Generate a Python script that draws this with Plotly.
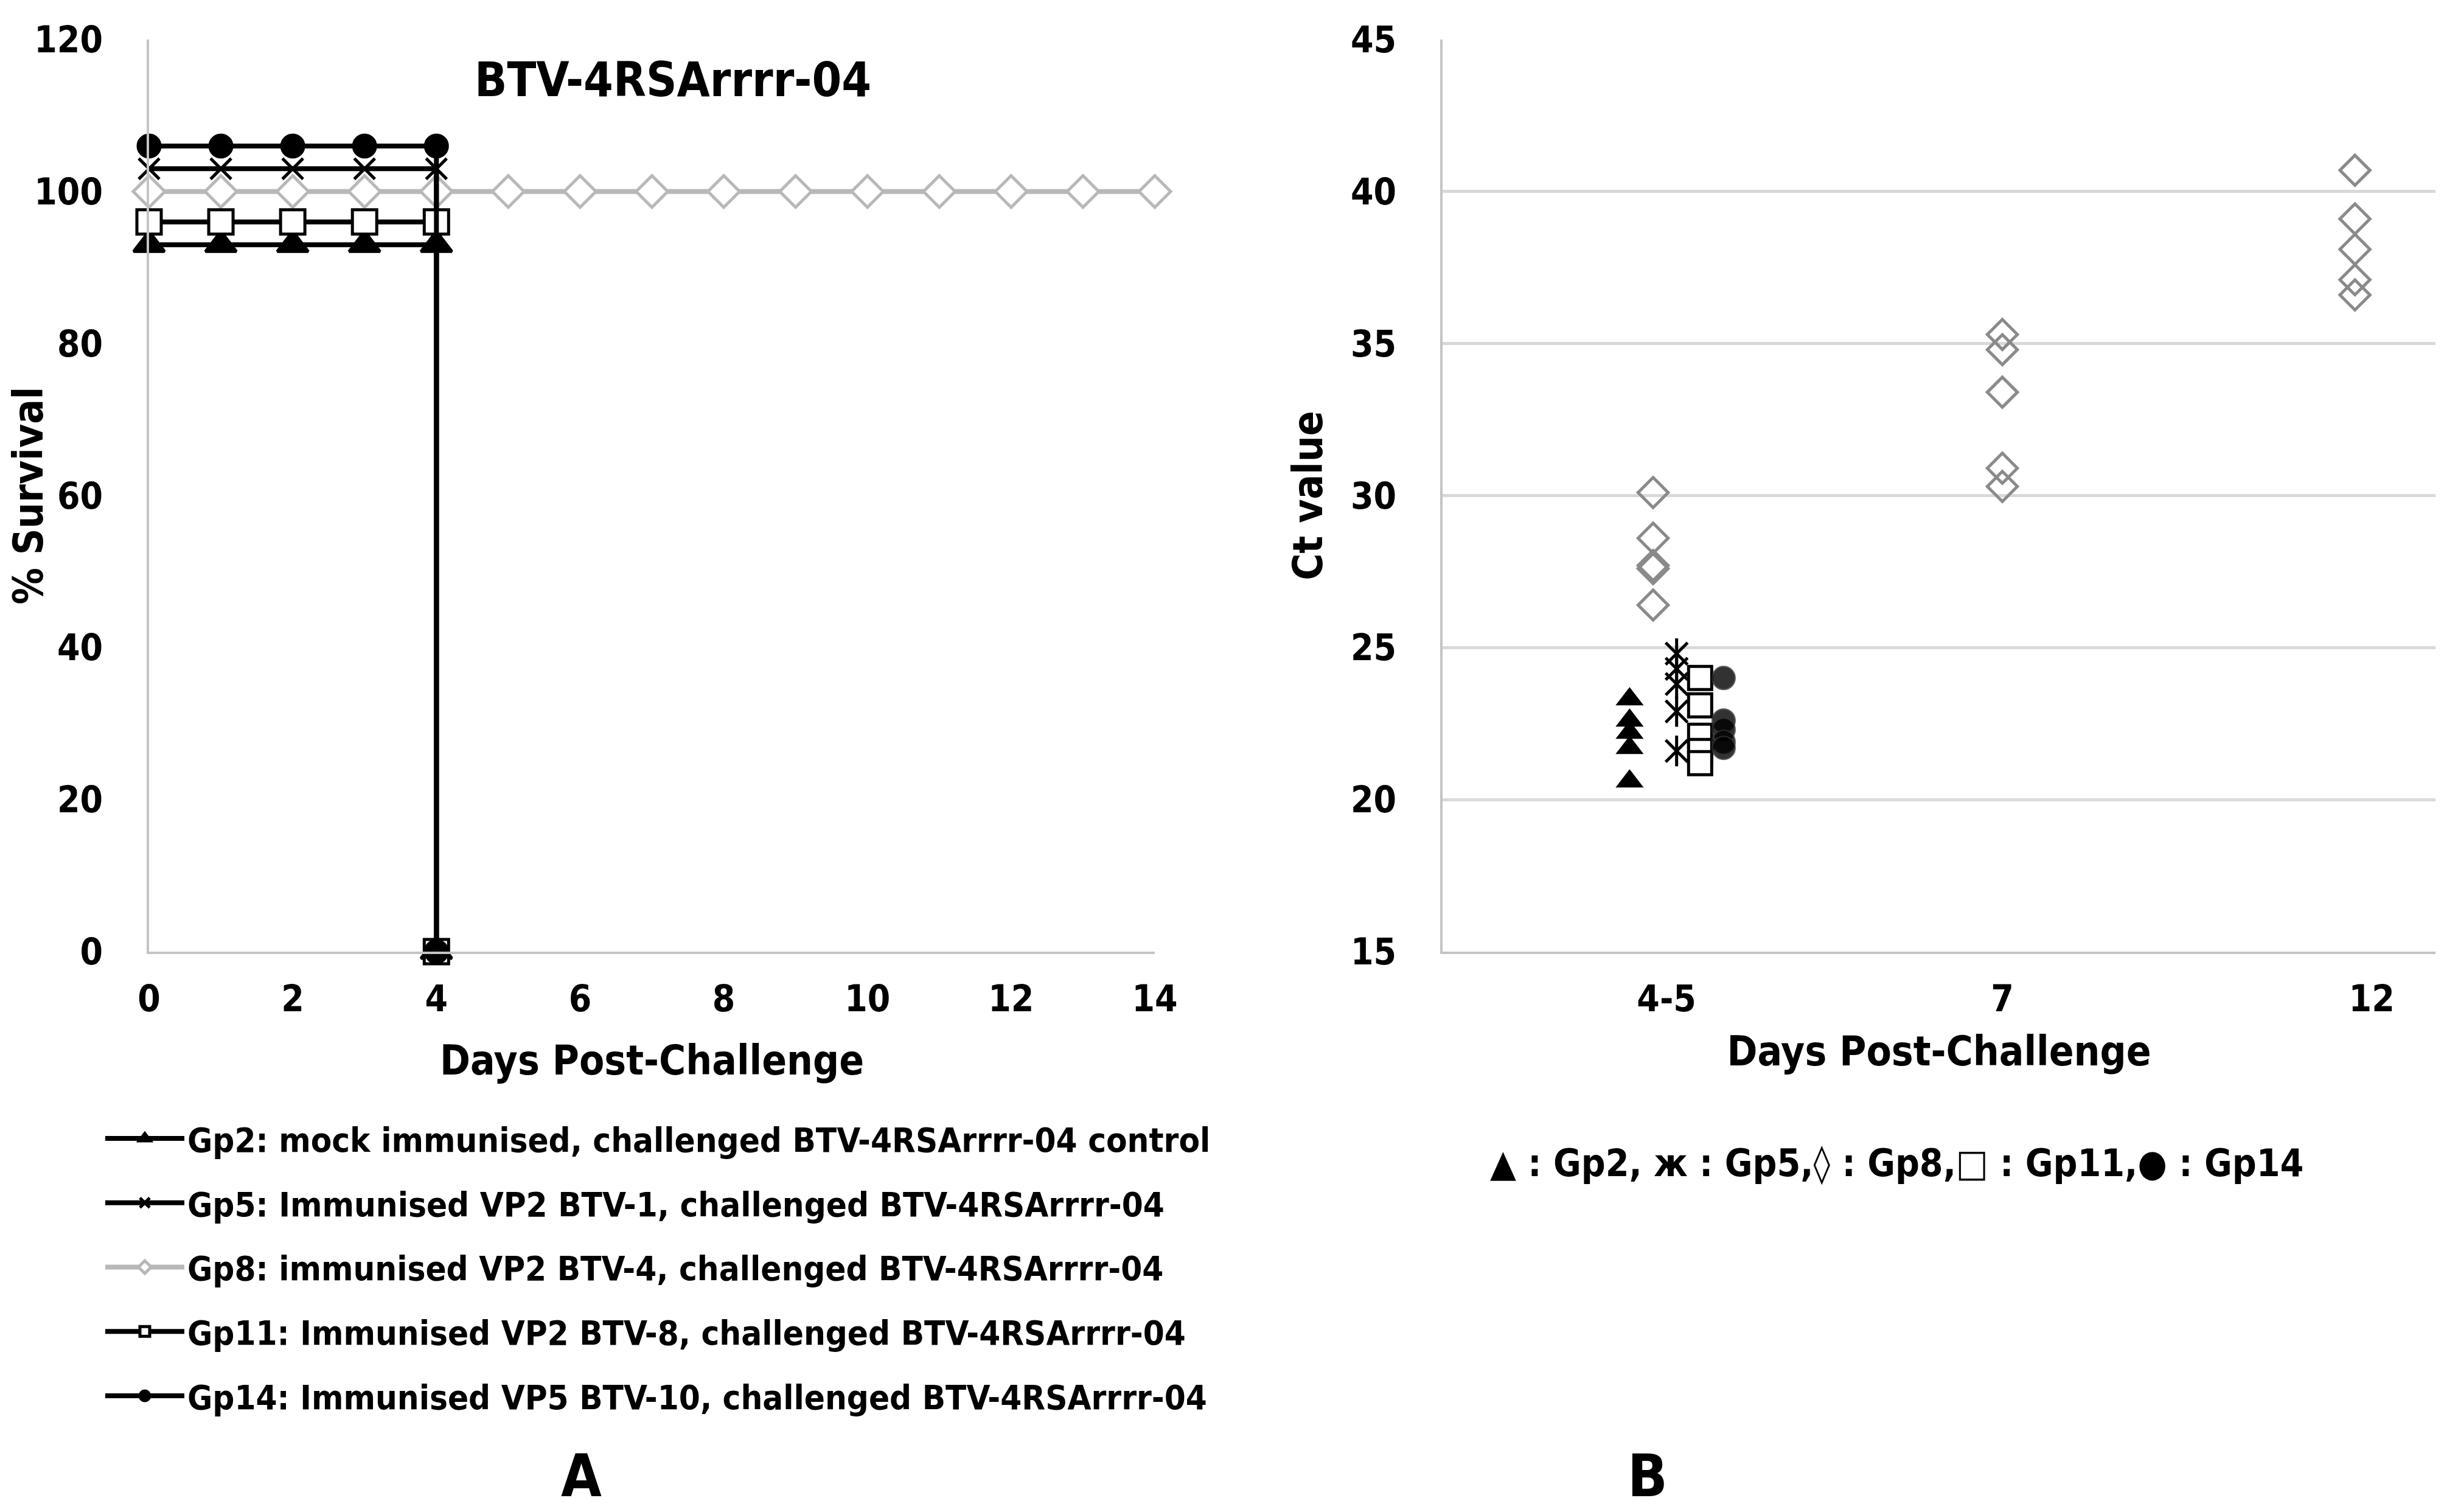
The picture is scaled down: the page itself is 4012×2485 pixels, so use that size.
import plotly.graph_objects as go

# ---- Panel A: survival after challenge ----
days_drop = [0, 1, 2, 3, 4, 4]          # groups that died on day 4
days_all = list(range(15))               # Gp8 survived to day 14
gp2_surv = [93, 93, 93, 93, 93, 0]
gp5_surv = [103, 103, 103, 103, 103, 0]
gp8_surv = [100] * 15
gp11_surv = [96, 96, 96, 96, 96, 0]
gp14_surv = [106, 106, 106, 106, 106, 0]

# ---- Panel B: Ct values per sampling day ----
day_labels = ["4-5", "7", "12"]
day_pos = [0, 1, 2.1]
gp2_ct = [23.3, 22.6, 22.2, 21.7, 20.6]
gp5_ct = [24.8, 24.3, 23.8, 22.9, 21.6]
gp11_ct = [24.0, 23.1, 22.1, 21.6, 21.2]
gp14_ct = [24.0, 22.6, 22.3, 21.9, 21.7]
gp8_ct_d45 = [30.1, 28.6, 27.7, 27.6, 26.4]
gp8_ct_d7 = [35.3, 34.8, 33.4, 30.9, 30.3]
gp8_ct_d12 = [40.7, 39.1, 38.1, 37.1, 36.6]

FONT = "DejaVu Sans Condensed, Open Sans, sans-serif"
W, H = 4012, 2485

fig = go.Figure()

series_a = [
    ("Gp2: mock immunised, challenged BTV-4RSArrrr-04 control", days_drop, gp2_surv,
     "triangle-up", "black", "black", 44),
    ("Gp5: Immunised VP2 BTV-1, challenged BTV-4RSArrrr-04", days_drop, gp5_surv,
     "x-thin", "black", "black", 34),
    ("Gp8: immunised VP2 BTV-4, challenged BTV-4RSArrrr-04", days_all, gp8_surv,
     "diamond", "white", "#b8b8b8", 40),
    ("Gp11: Immunised VP2 BTV-8, challenged BTV-4RSArrrr-04", days_drop, gp11_surv,
     "square", "white", "black", 40),
    ("Gp14: Immunised VP5 BTV-10, challenged BTV-4RSArrrr-04", days_drop, gp14_surv,
     "circle", "black", "black", 36),
]
# draw the grey line first so the black drop line sits above it
draw_order = [2, 0, 1, 3, 4]
for i in draw_order:
    name, xs, ys, sym, fill, col, size = series_a[i]
    fig.add_trace(go.Scatter(
        x=xs, y=ys, mode="lines+markers", name=name,
        legendrank=i + 1, legendgroup=f"g{i}", cliponaxis=False,
        line=dict(color=col, width=8),
        marker=dict(symbol=sym, size=size, color=fill,
                    line=dict(color=col, width=5)),
        xaxis="x", yaxis="y"))

# panel B: small offsets within the 4-5 day column so groups stay apart
def col_x(pos, offset, n):
    return [pos + offset] * n

fig.add_trace(go.Scatter(x=col_x(day_pos[0], -0.11, len(gp2_ct)), y=gp2_ct, mode="markers",
                         marker=dict(symbol="triangle-up", size=40, color="black"),
                         showlegend=False, xaxis="x2", yaxis="y2"))
for sym in ["x-thin-open", "line-ns-open"]:
    fig.add_trace(go.Scatter(x=col_x(day_pos[0], 0.03, len(gp5_ct)), y=gp5_ct, mode="markers",
                             marker=dict(symbol=sym, size=36, color="black",
                                         line=dict(color="black", width=5)),
                             showlegend=False, xaxis="x2", yaxis="y2"))
for pos, off, vals in [(day_pos[0], -0.04, gp8_ct_d45), (day_pos[1], 0.0, gp8_ct_d7),
                       (day_pos[2], -0.05, gp8_ct_d12)]:
    fig.add_trace(go.Scatter(x=col_x(pos, off, len(vals)), y=vals, mode="markers",
                             marker=dict(symbol="diamond-open", size=38, color="#8a8a8a",
                                         line=dict(color="#8a8a8a", width=5)),
                             showlegend=False, xaxis="x2", yaxis="y2"))
fig.add_trace(go.Scatter(x=col_x(day_pos[0], 0.10, len(gp11_ct)), y=gp11_ct, mode="markers",
                         marker=dict(symbol="square", size=38, color="white",
                                     line=dict(color="black", width=5)),
                         showlegend=False, xaxis="x2", yaxis="y2"))
fig.add_trace(go.Scatter(x=col_x(day_pos[0], 0.17, len(gp14_ct)), y=gp14_ct, mode="markers",
                         marker=dict(symbol="circle", size=38, color="black", opacity=0.8,
                                     line=dict(color="#333333", width=2)),
                         showlegend=False, xaxis="x2", yaxis="y2"))

tickfont = dict(family=FONT, size=60, color="black", weight="bold")
titlefont = dict(family=FONT, size=67, color="black", weight="bold")
axis_grey = "#c4c4c4"

common_axis = dict(showgrid=False, zeroline=False, showline=True, linecolor=axis_grey,
                   linewidth=4, ticks="", tickfont=tickfont, automargin=False)

fig.update_layout(
    width=W, height=H,
    paper_bgcolor="white", plot_bgcolor="white",
    margin=dict(l=0, r=0, t=0, b=0, autoexpand=False),
    font=dict(family=FONT, color="black"),
    xaxis=dict(common_axis, domain=[237 / W, 1890 / W], range=[0, 14],
               tickvals=list(range(0, 15, 2)), ticklabelstandoff=22,
               title=dict(text="Days Post-Challenge", font=titlefont, standoff=45),
               anchor="y"),
    yaxis=dict(common_axis, domain=[(H - 1556) / H, (H - 57) / H], range=[0, 120],
               tickvals=list(range(0, 121, 20)), ticklabelstandoff=60,
               title=dict(text="% Survival", font=titlefont, standoff=25),
               anchor="x"),
    xaxis2=dict(common_axis, domain=[2363 / W, 3995 / W], range=[-0.667, 2.29],
                tickvals=day_pos, ticktext=day_labels, ticklabelstandoff=22,
                title=dict(text="Days Post-Challenge", font=titlefont, standoff=30),
                anchor="y2"),
    yaxis2=dict(common_axis, domain=[(H - 1556) / H, (H - 57) / H], range=[15, 45],
                tickvals=list(range(15, 46, 5)), ticklabelstandoff=60,
                showgrid=True, gridcolor="#d9d9d9", gridwidth=5,
                title=dict(text="Ct value", font=titlefont, standoff=25),
                anchor="x2"),
    legend=dict(x=160 / W, y=(H - 1820) / H, xanchor="left", yanchor="top",
                font=dict(family=FONT, size=56, color="black", weight="bold"),
                itemwidth=130, tracegroupgap=30, bgcolor="rgba(0,0,0,0)",
                traceorder="grouped"),
)

for txt, x, y, size in [
    ("BTV-4RSArrrr-04", 1098, 123, 78),
    ("▲ : Gp2, ж : Gp5,◊ : Gp8,□ : Gp11,● : Gp14", 3109, 1903, 62),
    ("A", 947, 2418, 96),
    ("B", 2700, 2418, 96),
]:
    fig.add_annotation(text=txt, x=x / W, y=1 - y / H, xref="paper", yref="paper",
                       showarrow=False, xanchor="center", yanchor="middle",
                       font=dict(family=FONT, size=size, color="black", weight="bold"))

fig.write_html("out.html")
